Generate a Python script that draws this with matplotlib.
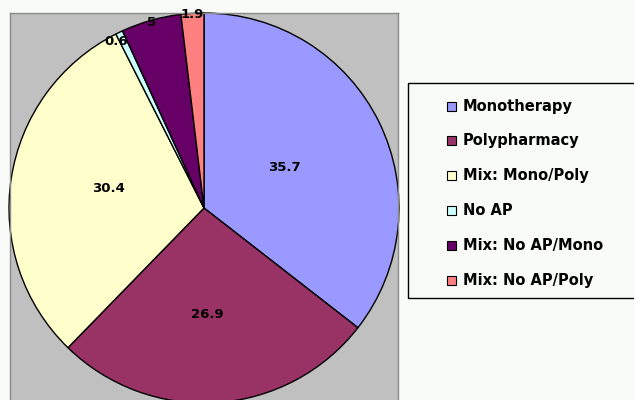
import numpy as np
import matplotlib.pyplot as plt
from matplotlib.patches import Rectangle

# data
categories = ['Monotherapy', 'Polypharmacy', 'Mix: Mono/Poly', 'No AP',
              'Mix: No AP/Mono', 'Mix: No AP/Poly']
values = [35.7, 26.9, 30.4, 0.6, 5, 1.9]
value_labels = ['35.7', '26.9', '30.4', '0.6', '5', '1.9']
colors = ['#9999FF', '#993366', '#FFFFCC', '#CCFFFF', '#660066', '#FF8080']
# label placement (radius, angle nudge in degrees)
label_radius = [0.46, 0.545, 0.50, 0.964, 0.99, 0.995]
label_nudge = [1, -2, -3, 2, 0, 0]

W, H = 634, 400
bg = '#f8fbf8'
fig = plt.figure(figsize=(W / 100, H / 100), dpi=100, facecolor=bg)

# grey plot area (bottom runs off the image)
ax = fig.add_axes([10 / W, -3 / H, 388 / W, 390 / H])
wedges, _ = ax.pie(values, colors=colors, startangle=90, counterclock=False,
                   radius=1.0, center=(0, 0), frame=True,
                   wedgeprops=dict(edgecolor='black', linewidth=1))
ax.set_facecolor('#C0C0C0')
for side in ['left', 'top', 'right']:
    ax.spines[side].set_color('#8a8a8a')
    ax.spines[side].set_linewidth(1)
ax.spines['bottom'].set_visible(False)
ax.set_xticks([])
ax.set_yticks([])
ax.set_xlim(-194 / 195, 194 / 195)
ax.set_ylim(-1, 1)
ax.set_aspect('equal')

for w, txt, r, d in zip(wedges, value_labels, label_radius, label_nudge):
    ang = np.deg2rad((w.theta1 + w.theta2) / 2 + d)
    ax.text(r * np.cos(ang), r * np.sin(ang), txt, ha='center', va='center',
            fontsize=9.5, fontweight='bold', family='DejaVu Sans', clip_on=False)

# legend box drawn by hand to match the spacing
fig.patches.append(Rectangle((408 / W, (H - 298) / H), 240 / W, 215 / H,
                             transform=fig.transFigure, facecolor=bg,
                             edgecolor='black', linewidth=1))
row_y = 106
for cat, col in zip(categories, colors):
    yf = (H - row_y) / H
    fig.patches.append(Rectangle((447 / W, yf - 4.5 / H), 9 / W, 9 / H,
                                 transform=fig.transFigure, facecolor=col,
                                 edgecolor='black', linewidth=0.8))
    fig.text(463 / W, yf, cat, ha='left', va='center', fontsize=10.5,
             fontweight='bold', family='DejaVu Sans')
    row_y += 34.8

fig.savefig('out.png', dpi=100, facecolor=fig.get_facecolor())
